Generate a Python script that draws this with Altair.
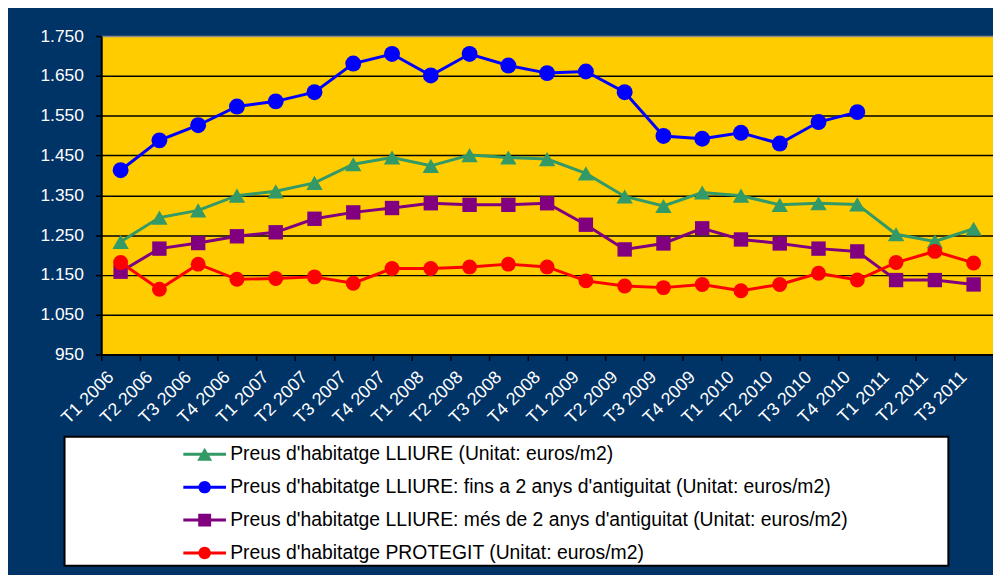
import altair as alt
import pandas as pd

quarters = ["T1 2006", "T2 2006", "T3 2006", "T4 2006",
            "T1 2007", "T2 2007", "T3 2007", "T4 2007",
            "T1 2008", "T2 2008", "T3 2008", "T4 2008",
            "T1 2009", "T2 2009", "T3 2009", "T4 2009",
            "T1 2010", "T2 2010", "T3 2010", "T4 2010",
            "T1 2011", "T2 2011", "T3 2011"]

series_names = [
    "Preus d'habitatge LLIURE (Unitat: euros/m2)",
    "Preus d'habitatge LLIURE: fins a 2 anys d'antiguitat (Unitat: euros/m2)",
    "Preus d'habitatge LLIURE: més de 2 anys d'antiguitat (Unitat: euros/m2)",
    "Preus d'habitatge PROTEGIT (Unitat: euros/m2)",
]
series_colors = ["#339966", "#0000FF", "#800080", "#FF0000"]
series_shapes = ["triangle-up", "circle", "square", "circle"]
series_sizes = [272, 256, 210, 225]

lliure = [1233, 1294, 1312, 1349, 1360, 1381, 1428, 1445, 1424, 1451, 1445, 1441,
          1405, 1347, 1323, 1357, 1349, 1326, 1330, 1327, 1252, 1234, 1266]
fins2 = [1413, 1488, 1526, 1573, 1586, 1609, 1681, 1705, 1651, 1705, 1676, 1657,
         1661, 1609, 1499, 1492, 1507, 1480, 1534, 1559, None, None, None]
mes2 = [1158, 1216, 1230, 1247, 1257, 1291, 1307, 1318, 1330, 1326, 1326, 1330,
        1276, 1214, 1229, 1267, 1239, 1229, 1216, 1209, 1137, 1137, 1126]
protegit = [1181, 1114, 1177, 1139, 1141, 1145, 1129, 1166, 1166, 1170, 1177, 1170,
            1135, 1122, 1118, 1126, 1110, 1126, 1154, 1137, 1181, 1209, 1180]

y_ticks = [950, 1050, 1150, 1250, 1350, 1450, 1550, 1650, 1750]

# legend symbols: line + marker, custom SVG paths
LINE = "M-4.3,-0.3H4.3V0.3H-4.3Z"
legend_paths = [
    LINE + "M0,-1.3L1.5,1.3L-1.5,1.3Z",
    LINE + "M-1.25,0A1.25,1.25 0 1,1 1.25,0A1.25,1.25 0 1,1 -1.25,0Z",
    LINE + "M-1.3,-1.3H1.3V1.3H-1.3Z",
    LINE + "M-1.25,0A1.25,1.25 0 1,1 1.25,0A1.25,1.25 0 1,1 -1.25,0Z",
]

rows = []
for name, vals in zip(series_names, [lliure, fins2, mes2, protegit]):
    for q, v in zip(quarters, vals):
        if v is not None:
            rows.append({"trimestre": q, "serie": name, "valor": v})
df = pd.DataFrame(rows)

FONT = "Liberation Sans"
PLOT_W, PLOT_H = 899, 321

x_enc = alt.X(
    "trimestre:N", sort=quarters, bandPosition=0.5,
    scale=alt.Scale(type="band", domain=quarters, paddingInner=0, paddingOuter=0),
    axis=alt.Axis(title=None, labelAngle=315, labelAlign="right", labelBaseline="middle",
                  labelColor="white", labelFontSize=18, labelFont=FONT, labelPadding=14,
                  labelOffset=-10,
                  labelOverlap=False, tickBand="extent", tickColor="black", tickSize=6,
                  tickWidth=1.5, domainColor="black", domainWidth=2, grid=False),
)
y_enc = alt.Y(
    "valor:Q",
    scale=alt.Scale(domain=[950, 1750], nice=False, zero=False),
    axis=alt.Axis(title=None, values=y_ticks,
                  labelExpr="replace(format(datum.value, ','), ',', '.')",
                  labelColor="white", labelFontSize=17.5, labelFont=FONT, labelPadding=12,
                  grid=True,
                  gridColor=alt.condition("datum.value == 1750", alt.value("#8C8C8C"), alt.value("black")),
                  gridWidth=1.5, domainColor="black", domainWidth=2,
                  tickColor="black", tickSize=6, tickWidth=1.5),
)
color_scale = alt.Scale(domain=series_names, range=series_colors)

base = alt.Chart(df)
layers = []

# legend box
box = alt.Chart(pd.DataFrame({"k": [0]})).mark_rect(
    fill="white", stroke="black", strokeWidth=2
).encode(x=alt.value(-37), x2=alt.value(854), y=alt.value(404), y2=alt.value(534))

leg = alt.Legend(orient="none", legendX=50, legendY=411.8, title=None, padding=0,
                 labelFont=FONT, labelFontSize=19.5, labelColor="black", labelLimit=1000,
                 rowPadding=12.2, symbolSize=100, symbolOffset=44.5, labelOffset=16,
                 symbolStrokeWidth=0, symbolOpacity=1, zindex=5)
carrier = base.mark_point(filled=True, size=100, opacity=0).encode(
    x=x_enc, y=y_enc,
    color=alt.Color("serie:N", scale=color_scale, legend=leg),
    shape=alt.Shape("serie:N", scale=alt.Scale(domain=series_names, range=legend_paths), legend=leg),
)
layers += [carrier, box]

for name, shp, sz in zip(series_names, series_shapes, series_sizes):
    sub = base.transform_filter(alt.FieldEqualPredicate(field="serie", equal=name))
    line = sub.mark_line(strokeWidth=3).encode(
        x=x_enc, y=y_enc, color=alt.Color("serie:N", scale=color_scale, legend=None))
    pts = sub.mark_point(shape=shp, filled=True, size=sz, opacity=1).encode(
        x=x_enc, y=y_enc, color=alt.Color("serie:N", scale=color_scale, legend=None))
    layers += [line, pts]

chart = alt.layer(*layers).properties(
    width=PLOT_W, height=PLOT_H,
    autosize=alt.AutoSizeParams(type="none"),
    padding={"left": 94, "top": 26, "right": 0, "bottom": 220},
    background="#003366",
).configure_view(fill="#FFCC00", stroke=None)

chart.save("out.html", embed_options={"renderer": "svg", "actions": False})
